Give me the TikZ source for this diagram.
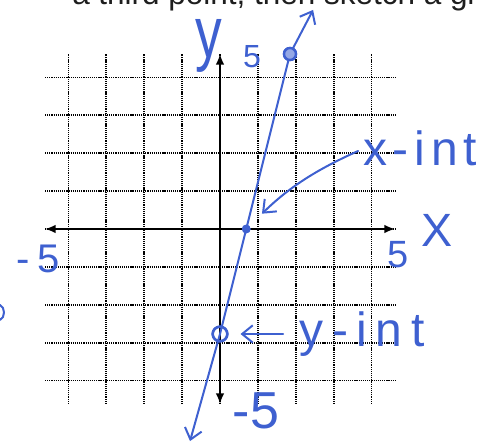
\documentclass[tikz,border=0pt]{standalone}
\usepackage{fontspec}
\setmainfont{Liberation Sans}
\definecolor{InkBlue}{RGB}{62, 96, 208}
\definecolor{PrintGray}{RGB}{30, 30, 30}
\usetikzlibrary{arrows.meta, positioning}
\tikzset{
  gridline/.style={draw=black, line width=1.1pt, dash pattern=on 0.9pt off 0.7pt},
  axisline/.style={{Latex[length=8pt,width=6.5pt]}-{Latex[length=8pt,width=6.5pt]},
                   line width=1.4pt, color=black},
  ink/.style={draw=#1, line width=1.5pt, line cap=round, line join=round},
  inkarr/.style={-{Straight Barb[length=8pt,width=13pt]}, line width=1.5pt,
                 line cap=round, color=#1},
  handtext/.style={text=#1, inner sep=0pt},
  ring/.style={circle, draw=#1, line width=1.8pt, inner sep=0pt},
}

\begin{document}
\begin{tikzpicture}[x=26.25pt, y=26.25pt]
      \useasboundingbox (-6.286,-6.143) rectangle (7.4,6.543);
      \clip (-6.286,-6.143) rectangle (7.4,6.543);

      % Prompt text (cut off at top)
      \node[anchor=base west, inner sep=0pt, text=PrintGray,
            font=\fontsize{23.6pt}{28pt}\selectfont] (prompt) at (-4.229,6.4)
            {a third point, then sketch a graph};

      % Grid and axes
      \draw[gridline] (-5,-5) grid (5,5);
      \draw[axisline] (-5,0) -- (5,0);
      \draw[axisline] (0,-5) -- (0,5);

      % Points
      \coordinate (lo) at (-0.857,-6.06);
      \coordinate (hi) at (2.66,6.26);
      \node[ring=InkBlue, minimum size=11pt] (yint) at (0,-3) {};
      \node[circle, fill=InkBlue, inner sep=0pt, minimum size=6.5pt] (xint) at (0.75,0) {};
      \node[ring=InkBlue, fill=InkBlue!55, minimum size=9pt] (ptop) at (2,5) {};

      % Line
      \draw[inkarr=InkBlue, {Straight Barb[length=8pt,width=13pt]}-{Straight Barb[length=8pt,width=13pt]}]
            (lo) -- (yint.center) -- (xint.center) -- (ptop.center) -- (hi);
      \node[ring=InkBlue, minimum size=11pt] at (yint) {};
      \node[circle, fill=InkBlue, inner sep=0pt, minimum size=6.5pt] at (xint) {};
      \node[ring=InkBlue, fill=InkBlue!55, minimum size=9pt] at (ptop) {};

      % Axis labels
      \node[handtext=InkBlue, anchor=base, font=\fontsize{40pt}{44pt}\selectfont]
            (ylet) at (-0.33,4.914) {\scalebox{1}[1.35]{y}};
      \node[handtext=InkBlue, anchor=base, font=\fontsize{24pt}{28pt}\selectfont]
            (yfive) at (0.914,4.6) {5};
      \node[handtext=InkBlue, anchor=base, font=\fontsize{28.5pt}{32pt}\selectfont]
            (xfive) at (5.086,-1.086) {5};
      \node[handtext=InkBlue, anchor=base, font=\fontsize{35pt}{40pt}\selectfont]
            (xlet) at (6.2,-0.514) {X};
      \node[handtext=InkBlue, anchor=base,
            font=\fontsize{30pt}{34pt}\selectfont\addfontfeature{LetterSpace=20}]
            (xneg) at (-5.2,-1.257) {-5};
      \node[handtext=InkBlue, anchor=base, font=\fontsize{39pt}{44pt}\selectfont]
            (yneg) at (1.03,-5.71) {-5};

      % Intercept notes
      \node[handtext=InkBlue, anchor=base west,
            font=\fontsize{36pt}{40pt}\selectfont\addfontfeature{LetterSpace=12}]
            (xlab) at (4.086,1.8) {x-int};
      \node[handtext=InkBlue, right=53pt of yint,
            font=\fontsize{36pt}{40pt}\selectfont\addfontfeature{LetterSpace=18}]
            (ylab) {y-int};

      \draw[inkarr=InkBlue, shorten <=4pt, shorten >=13pt]
            (xlab.west) to[bend right=10] (xint);
      \draw[inkarr=InkBlue, shorten <=12pt, shorten >=9pt] (ylab.west) -- (yint);

      % stray stroke at left edge
      \draw[ink=InkBlue] (-6.29,-2.17) to[bend left=70] (-6.29,-2.6);
\end{tikzpicture}
\end{document}
